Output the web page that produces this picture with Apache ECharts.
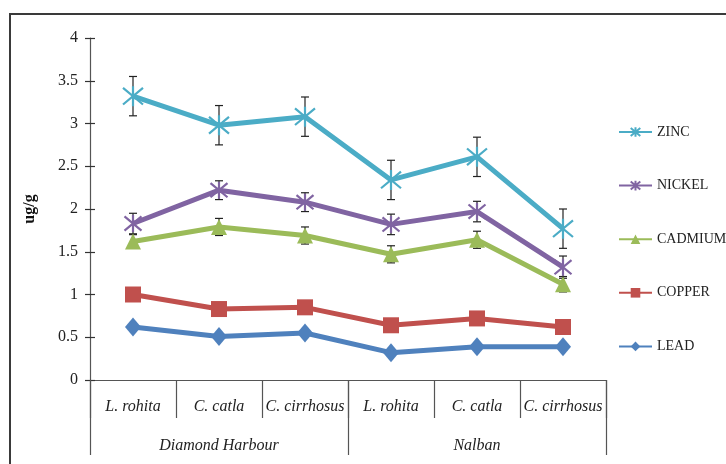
<!DOCTYPE html>
<html>
<head>
<meta charset="utf-8">
<script src="https://cdn.jsdelivr.net/npm/echarts@6/dist/echarts.min.js"></script>
<style>
  html, body { margin: 0; padding: 0; background: #fff; }
  #chart { width: 726px; height: 464px; }
</style>
</head>
<body>
<div id="chart"></div>
<script>
// Metal concentrations (ug/g) in three fish species at two sites
const species = ['L. rohita', 'C. catla', 'C. cirrhosus', 'L. rohita', 'C. catla', 'C. cirrhosus'];
const sites = ['Diamond Harbour', 'Nalban'];
const yTicks = [0, 0.5, 1, 1.5, 2, 2.5, 3, 3.5, 4];

const zinc    = [3.32, 2.98, 3.08, 2.34, 2.61, 1.77];
const nickel  = [1.83, 2.22, 2.08, 1.82, 1.97, 1.32];
const cadmium = [1.62, 1.79, 1.69, 1.47, 1.64, 1.12];
const copper  = [1.00, 0.83, 0.85, 0.64, 0.72, 0.62];
const lead    = [0.62, 0.51, 0.55, 0.32, 0.39, 0.39];

// standard deviations shown as error bars
const zincErr    = [0.23, 0.23, 0.23, 0.23, 0.23, 0.23];
const nickelErr  = [0.12, 0.11, 0.11, 0.12, 0.12, 0.13];
const cadmiumErr = [0.08, 0.10, 0.10, 0.10, 0.10, 0.09];

const FONT = '"Liberation Serif", "Times New Roman", serif';
const colors = {
  ZINC: '#4BACC6', NICKEL: '#8064A2', CADMIUM: '#9BBB59', COPPER: '#C0504D', LEAD: '#4F81BD'
};
const starPath = 'path://M0,0L10,10M10,0L0,10M5,-1L5,11';

function lineSeries(name, data, symbol, size, extra) {
  return Object.assign({
    name: name,
    type: 'line',
    xAxisIndex: 0,
    yAxisIndex: 0,
    data: data,
    symbol: symbol,
    symbolSize: size,
    z: 3,
    lineStyle: { color: colors[name], width: 5 },
    itemStyle: { color: colors[name] },
    emphasis: { disabled: true }
  }, extra || {});
}

function errorSeries(values, errs) {
  return {
    type: 'custom',
    xAxisIndex: 0,
    yAxisIndex: 0,
    z: 2,
    silent: true,
    data: values.map((v, i) => [i, v, errs[i]]),
    renderItem: function (params, api) {
      const x = api.value(0), v = api.value(1), e = api.value(2);
      const top = api.coord([x, v + e]);
      const bot = api.coord([x, v - e]);
      const hw = 4;
      const style = { stroke: '#222', lineWidth: 1.2 };
      return {
        type: 'group',
        children: [
          { type: 'line', shape: { x1: top[0], y1: top[1], x2: bot[0], y2: bot[1] }, style: style },
          { type: 'line', shape: { x1: top[0] - hw, y1: top[1], x2: top[0] + hw, y2: top[1] }, style: style },
          { type: 'line', shape: { x1: bot[0] - hw, y1: bot[1], x2: bot[0] + hw, y2: bot[1] }, style: style }
        ]
      };
    }
  };
}

const starStyle = (name) => ({
  itemStyle: { color: 'rgba(0,0,0,0)', borderColor: colors[name], borderWidth: 2.2 }
});

const chart = echarts.init(document.getElementById('chart'), null, { renderer: 'canvas' });

chart.setOption({
  animation: false,
  backgroundColor: '#fff',
  grid: { left: 90, right: 120, top: 38, bottom: 84, containLabel: false },
  graphic: [{
    type: 'rect',
    shape: { x: 10, y: 14, width: 800, height: 600 },
    style: { fill: 'none', stroke: '#3a3a3a', lineWidth: 2 },
    z: 0
  }],
  legend: {
    orient: 'vertical',
    left: 618,
    top: 125,
    padding: 0,
    itemWidth: 33,
    itemHeight: 12,
    itemGap: 39.6,
    textStyle: { fontFamily: FONT, fontSize: 14, color: '#222' },
    data: ['ZINC', 'NICKEL', 'CADMIUM', 'COPPER', 'LEAD']
  },
  xAxis: [{
    type: 'category',
    data: species,
    boundaryGap: true,
    axisLine: { lineStyle: { color: '#555', width: 1.2 } },
    axisTick: { show: true, interval: 0, length: 38, lineStyle: { color: '#555', width: 1.2 } },
    axisLabel: {
      interval: 0, margin: 19,
      fontFamily: FONT, fontStyle: 'italic', fontSize: 16, color: '#222'
    },
    splitLine: { show: false }
  }, {
    type: 'category',
    data: sites,
    position: 'bottom',
    boundaryGap: true,
    axisLine: { show: false },
    axisTick: { show: true, interval: 0, length: 75, lineStyle: { color: '#555', width: 1.2 } },
    axisLabel: {
      interval: 0, margin: 58,
      fontFamily: FONT, fontStyle: 'italic', fontSize: 16, color: '#222'
    },
    splitLine: { show: false }
  }],
  yAxis: [{
    type: 'value',
    min: yTicks[0],
    max: yTicks[yTicks.length - 1],
    interval: 0.5,
    name: 'ug/g',
    nameLocation: 'middle',
    nameGap: 52,
    nameTextStyle: { fontFamily: FONT, fontSize: 16, fontWeight: 'bold', color: '#111' },
    axisLine: { show: true, lineStyle: { color: '#555', width: 1.2 } },
    axisTick: { show: true, length: 5, lineStyle: { color: '#333', width: 1.2 } },
    axisLabel: { margin: 12, fontFamily: FONT, fontSize: 16, color: '#222' },
    splitLine: { show: false }
  }, {
    type: 'value',
    position: 'left',
    min: yTicks[0],
    max: yTicks[yTicks.length - 1],
    interval: 0.5,
    axisLine: { show: false },
    axisTick: { show: true, inside: true, length: 5, lineStyle: { color: '#333', width: 1.2 } },
    axisLabel: { show: false },
    splitLine: { show: false }
  }],
  series: [
    errorSeries(zinc, zincErr),
    errorSeries(nickel, nickelErr),
    errorSeries(cadmium, cadmiumErr),
    lineSeries('ZINC', zinc, starPath, 20, starStyle('ZINC')),
    lineSeries('NICKEL', nickel, starPath, 17, starStyle('NICKEL')),
    lineSeries('CADMIUM', cadmium, 'triangle', 16),
    lineSeries('COPPER', copper, 'rect', 16),
    lineSeries('LEAD', lead, 'diamond', [16, 19])
  ]
});
</script>
</body>
</html>
